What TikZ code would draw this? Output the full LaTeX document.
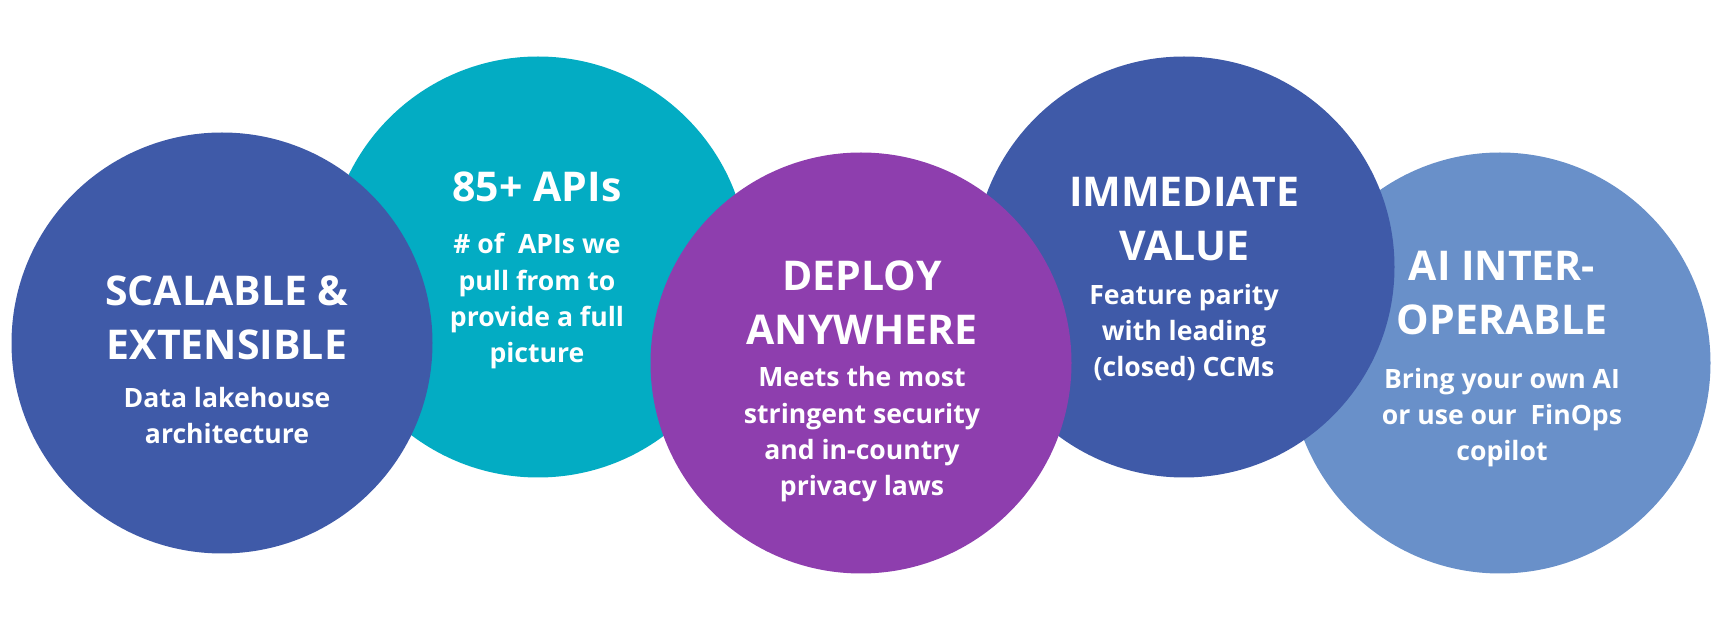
\documentclass[tikz,border=0pt]{standalone}
\usepackage{fontspec}
\setmainfont{Open Sans}
\usepackage{tikz}
\usetikzlibrary{positioning,calc}

\begin{document}
\begin{tikzpicture}[
            x=0.5pt, y=-0.5pt,
            bubble/.style={circle,draw=none,inner sep=0pt,minimum size=210.5pt},
            heading/.style={text=white,align=center,anchor=base,inner sep=0pt,
                font=\fontsize{20.5}{27}\selectfont\bfseries},
            blurb/.style={text=white,align=center,anchor=base,inner sep=0pt,
                font=\fontsize{13.3}{18.2}\selectfont\bfseries}
        ]

        % Define colors
        \definecolor{colorA}{HTML}{3F5AA8};
        \definecolor{colorB}{HTML}{03ACC3};
        \definecolor{colorC}{HTML}{8E3EAE};
        \definecolor{colorD}{HTML}{6990C9};

        % Fix the page size
        \useasboundingbox (0,0) rectangle (1725,625);

        % Draw the back circles first
        \node[bubble,fill=colorB] (apis) at (538,267) {};
        \node[bubble,fill=colorD] (interop) at (1500,363) {};
        \node[bubble,fill=colorA] (scalable) at (222,343) {};
        \node[bubble,fill=colorA] (value) at (1184,267) {};
        \node[bubble,fill=colorC] (deploy) at (861,363) {};

        % Texts of the first circle (placed at the last baseline)
        \node[heading] (scalableT) at (227,360) {SCALABLE \&\\EXTENSIBLE};
        \node[blurb] (scalableS) at (227,444) {Data lakehouse\\architecture};

        % Texts of the second circle
        \node[heading] (apisT) at (537,202) {85+ APIs};
        \node[blurb] (apisS) at (537,363) {\# of~ APIs we\\pull from to\\provide a full\\picture};

        % Texts of the third circle
        \node[heading] (deployT) at (862,345) {DEPLOY\\ANYWHERE};
        \node[blurb] (deployS) at (862,496) {Meets the most\\stringent security\\and in-country\\privacy laws};

        % Texts of the fourth circle
        \node[heading] (valueT) at (1184,261) {IMMEDIATE\\VALUE};
        \node[blurb] (valueS) at (1184,377) {Feature parity\\with leading\\(closed) CCMs};

        % Texts of the fifth circle
        \node[heading] (interopT) at (1502,335) {AI INTER-\\OPERABLE};
        \node[blurb] (interopS) at (1502,461) {Bring your own AI\\or use our~ FinOps\\copilot};

        \end{tikzpicture}
\end{document}
